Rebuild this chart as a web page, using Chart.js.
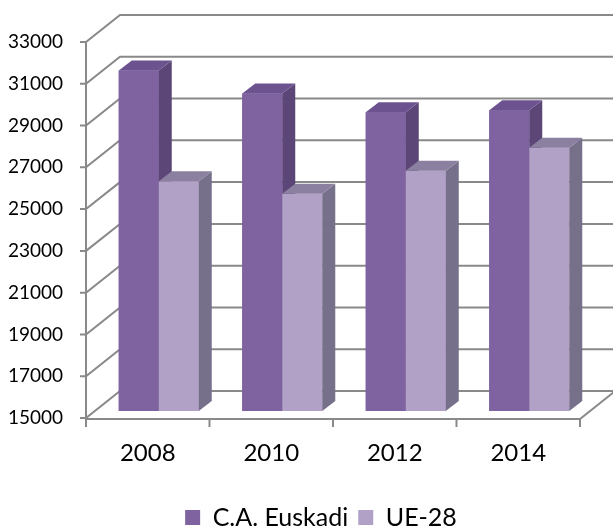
<!DOCTYPE html>
<html>
<head>
<meta charset="utf-8">
<script src="https://cdn.jsdelivr.net/npm/chart.js@4.4.1/dist/chart.umd.min.js"></script>
<style>
  html, body { margin: 0; padding: 0; background: #fff; }
  #wrap { width: 613px; height: 529px; position: relative; }
</style>
</head>
<body>
<div id="wrap"><canvas id="chart"></canvas></div>
<script>
const years = ['2008', '2010', '2012', '2014'];
const euskadi = [31300, 30200, 29300, 29400];
const ue28 = [26000, 25400, 26500, 27600];
const yMin = 15000;
const yMax = 33000;
const yStep = 2000;

// fake 3d box: back wall offset, where the bars stand, how deep they are
const WALL = { dx: 34, dy: -27 };
const SHIFT = { dx: 11, dy: -7 };
const DEPTH = { dx: 13, dy: -10 };
const GRID = '#898989';
const LEGEND_NUDGE = 31;
const FACES = [
  { front: '#7f63a1', side: '#5c4678', top: '#6c5390' },
  { front: '#b2a1c7', side: '#77708a', top: '#8b80a0' }
];

const box3d = {
  id: 'box3d',
  afterLayout(chart) {
    // legend sits a bit right of the canvas centre in the original
    chart.legend.left += LEGEND_NUDGE;
    chart.legend.right += LEGEND_NUDGE;
  },
  beforeDatasetsDraw(chart) {
    const { ctx, chartArea: a, scales: { x, y } } = chart;
    ctx.save();
    ctx.strokeStyle = GRID;
    ctx.lineWidth = 2;
    ctx.beginPath();
    for (let v = yMin; v <= yMax; v += yStep) {
      const py = y.getPixelForValue(v);
      ctx.moveTo(a.left - 6, py);
      ctx.lineTo(a.left, py);
      ctx.lineTo(a.left + WALL.dx, py + WALL.dy);
      ctx.lineTo(a.right + WALL.dx, py + WALL.dy);
    }
    // front axis, floor front and right edges
    ctx.moveTo(a.left, y.getPixelForValue(yMax));
    ctx.lineTo(a.left, a.bottom + 1);
    ctx.lineTo(a.right, a.bottom + 1);
    ctx.lineTo(a.right + WALL.dx, a.bottom + 1 + WALL.dy);
    for (let i = 0; i <= years.length; i++) {
      const px = x.getPixelForValue(i - 0.5);
      ctx.moveTo(px, a.bottom + 1);
      ctx.lineTo(px, a.bottom + 9);
    }
    ctx.stroke();
    ctx.restore();

    ctx.save();
    ctx.translate(SHIFT.dx, SHIFT.dy);
  },
  afterDatasetsDraw(chart) {
    const { ctx } = chart;
    chart.data.datasets.forEach((ds, i) => {
      const f = FACES[i];
      chart.getDatasetMeta(i).data.forEach(bar => {
        bar.draw(ctx);
        const { x, y, base, width } = bar.getProps(['x', 'y', 'base', 'width'], true);
        const l = x - width / 2, r = x + width / 2;
        ctx.fillStyle = f.side;
        ctx.beginPath();
        ctx.moveTo(r, y);
        ctx.lineTo(r + DEPTH.dx, y + DEPTH.dy);
        ctx.lineTo(r + DEPTH.dx, base + DEPTH.dy);
        ctx.lineTo(r, base);
        ctx.closePath();
        ctx.fill();
        ctx.fillStyle = f.top;
        ctx.beginPath();
        ctx.moveTo(l, y);
        ctx.lineTo(l + DEPTH.dx, y + DEPTH.dy);
        ctx.lineTo(r + DEPTH.dx, y + DEPTH.dy);
        ctx.lineTo(r, y);
        ctx.closePath();
        ctx.fill();
      });
    });
    ctx.restore();
  }
};

Chart.defaults.font.family = 'Lato, "Open Sans", sans-serif';
Chart.defaults.color = '#000';

new Chart(document.getElementById('chart'), {
  type: 'bar',
  data: {
    labels: years,
    datasets: [
      { label: 'C.A. Euskadi', data: euskadi, backgroundColor: FACES[0].front, borderWidth: 0 },
      { label: 'UE-28', data: ue28, backgroundColor: FACES[1].front, borderWidth: 0 }
    ]
  },
  options: {
    responsive: true,
    maintainAspectRatio: false,
    animation: false,
    base: yMin,
    barPercentage: 1,
    categoryPercentage: 0.648,
    layout: { padding: { top: 42, left: 0, right: 33, bottom: -11 } },
    plugins: {
      tooltip: { enabled: false },
      legend: {
        position: 'bottom',
        labels: { boxWidth: 15, boxHeight: 15, padding: 10, font: { size: 25 } }
      }
    },
    scales: {
      x: {
        grid: { display: false, drawTicks: false },
        border: { display: false },
        ticks: { padding: 21, font: { size: 24 } },
        afterFit(s) { s.height = 77; }
      },
      y: {
        min: yMin,
        max: yMax,
        grid: { display: false, drawTicks: false },
        border: { display: false },
        ticks: { stepSize: yStep, padding: 23, font: { size: 19 }, callback: v => String(v) },
        afterFit(s) { s.width = 86; }
      }
    }
  },
  plugins: [box3d]
});
</script>
</body>
</html>
